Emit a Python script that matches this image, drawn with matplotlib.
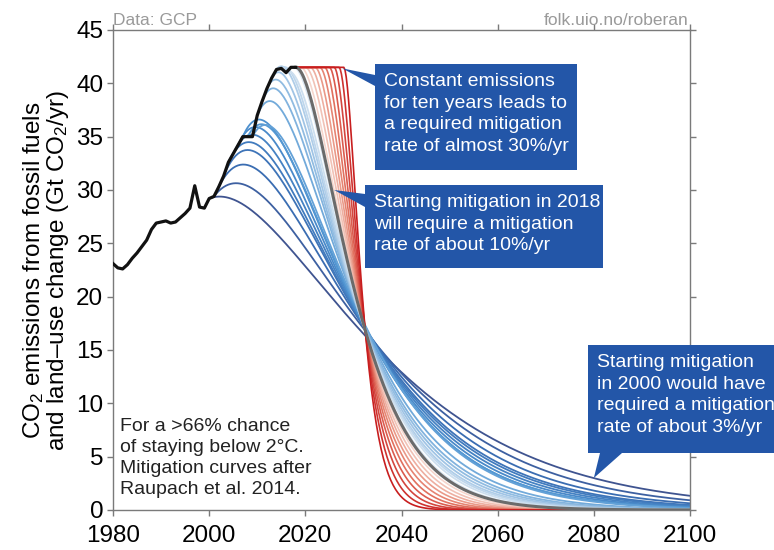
import numpy as np
import matplotlib
matplotlib.use("Agg")
import matplotlib.pyplot as plt
from matplotlib.colors import LinearSegmentedColormap
from matplotlib.patches import Polygon

plt.rcParams['font.family'] = ['Liberation Sans', 'DejaVu Sans']
plt.rcParams['mathtext.fontset'] = 'custom'
plt.rcParams['mathtext.rm'] = 'Liberation Sans'
plt.rcParams['mathtext.it'] = 'Liberation Sans:italic'

# historical emissions, fossil + land-use (GtCO2/yr)
hist_years = list(range(1980, 2019))
hist_vals = [23.1, 22.7, 22.6, 23.0, 23.6, 24.1, 24.7, 25.3, 26.3, 26.9,
             27.0, 27.1, 26.9, 27.0, 27.4, 27.8, 28.3, 30.4, 28.4, 28.3,
             29.2, 29.4, 30.3, 31.3, 32.6, 33.4, 34.2, 35.0, 35.0, 35.0,
             37.0, 38.3, 39.5, 40.5, 41.3, 41.4, 41.0, 41.5, 41.5]

# mitigation starting years (blue), with the growth rate at the start
blue_years = list(range(2000, 2018))
blue_growth = [0.006, 0.02, 0.03, 0.035, 0.03, 0.03, 0.03, 0.03, 0.025, 0.025,
               0.03, 0.03, 0.025, 0.02, 0.015, 0.01, 0.01, 0.008]
gray_year = 2018
# constant emissions until these years, then mitigation (red)
red_years = list(range(2019, 2029))
# remaining budget from 2018 (GtCO2), >66% chance of 2 degC
budget_2018 = 600.0

hist = dict(zip(hist_years, hist_vals))


def raupach(t, f0, r, quota):
    # Raupach et al. 2014 smooth mitigation curve with fixed quota
    m = (f0 + np.sqrt(f0 ** 2 + quota * f0 * r)) / quota
    return f0 * (1 + (r + m) * t) * np.exp(-m * t)


W, H = 774, 550
fig = plt.figure(figsize=(W / 100, H / 100), dpi=100)
ax = fig.add_axes([113 / W, 1 - 510 / H, (690 - 113) / W, 480 / H])

blue_cmap = LinearSegmentedColormap.from_list(
    "b", [(0, "#3f5490"), (0.12, "#3a6db3"), (0.45, "#4f95d2"), (1, "#dce8f3")])
red_cmap = LinearSegmentedColormap.from_list("r", ["#f5d6cd", "#e47a66", "#c81e1f"])

for i, (y0, r) in enumerate(zip(blue_years, blue_growth)):
    quota = budget_2018 + sum(hist[y] for y in range(y0, 2018))
    t = np.arange(0, 2100.25 - y0, 0.25)
    c = blue_cmap(i / (len(blue_years) - 1))
    ax.plot(y0 + t, raupach(t, hist[y0], r, quota), color=c, lw=1.3, zorder=2)

f_last = hist[gray_year]
for i, y0 in enumerate(red_years):
    quota = budget_2018 - f_last * (y0 - gray_year)
    t = np.arange(0, 2100.25 - y0, 0.25)
    x = np.concatenate([[gray_year], y0 + t])
    y = np.concatenate([[f_last], raupach(t, f_last, 0.0, quota)])
    c = red_cmap(i / (len(red_years) - 1))
    ax.plot(x, y, color=c, lw=1.2, zorder=3)

t = np.arange(0, 2100.25 - gray_year, 0.25)
ax.plot(gray_year + t, raupach(t, f_last, 0.0, budget_2018),
        color="#6b6b6b", lw=2.2, zorder=4)

ax.plot(hist_years, hist_vals, color="#111111", lw=2.3, zorder=5,
        solid_joinstyle="round")

ax.set_xlim(1980, 2100)
ax.set_ylim(0, 45)
ax.set_xticks(range(1980, 2101, 20))
ax.set_yticks(range(0, 46, 5))
for s in ax.spines.values():
    s.set_color("#7a7a7a")
    s.set_linewidth(1.0)
ax.tick_params(direction="out", length=4, width=1, color="#7a7a7a",
               labelsize=17.5, top=True, right=True, pad=3)
ax.tick_params(axis="x", pad=7)
ax.set_ylabel("CO$_2$ emissions from fossil fuels\nand land\u2013use change (Gt CO$_2$/yr)",
              fontsize=17.5, linespacing=0.95, labelpad=4)

fig.text(113 / W, 1 - 25 / H, "Data: GCP", fontsize=12.5, color="#9a9a9a")
fig.text(688 / W, 1 - 25 / H, "folk.uio.no/roberan", fontsize=12.5,
         color="#9a9a9a", ha="right")

ax.text(120 / W, 1 - 418 / H,
        "For a >66% chance\nof staying below 2\u00b0C.\nMitigation curves after\nRaupach et al. 2014.",
        transform=fig.transFigure, fontsize=14, color="#222222", va="top",
        linespacing=1.3, zorder=6)

# callout boxes
box_col = "#2356a8"


def tip_px(xd, yd):
    px, py = ax.transData.transform((xd, yd))
    return px, H - py


def callout(pts, text, tx, ty):
    fpts = [(x / W, 1 - y / H) for x, y in pts]
    fig.add_artist(Polygon(fpts, closed=True, transform=fig.transFigure,
                           facecolor=box_col, edgecolor="none", zorder=10))
    fig.text(tx / W, 1 - ty / H, text, color="white", fontsize=14,
             va="top", ha="left", linespacing=1.35, zorder=11)


tx1, ty1 = tip_px(2027.7, 41.4)
callout([(375, 64), (577, 64), (577, 170), (375, 170), (375, 86), (tx1, ty1), (375, 75)],
        "Constant emissions\nfor ten years leads to\na required mitigation\nrate of almost 30%/yr",
        384, 73)

tx2, ty2 = tip_px(2026.0, 30.0)
callout([(365, 185), (603, 185), (603, 268), (365, 268), (365, 207), (tx2, ty2), (365, 194)],
        "Starting mitigation in 2018\nwill require a mitigation\nrate of about 10%/yr",
        374, 194)

tx3, ty3 = tip_px(2080, 3.0)
callout([(588, 345), (774, 345), (774, 453), (622, 453), (tx3, ty3), (600, 453), (588, 453)],
        "Starting mitigation\nin 2000 would have\nrequired a mitigation\nrate of about 3%/yr",
        597, 354)

fig.savefig("out.png", dpi=100)
